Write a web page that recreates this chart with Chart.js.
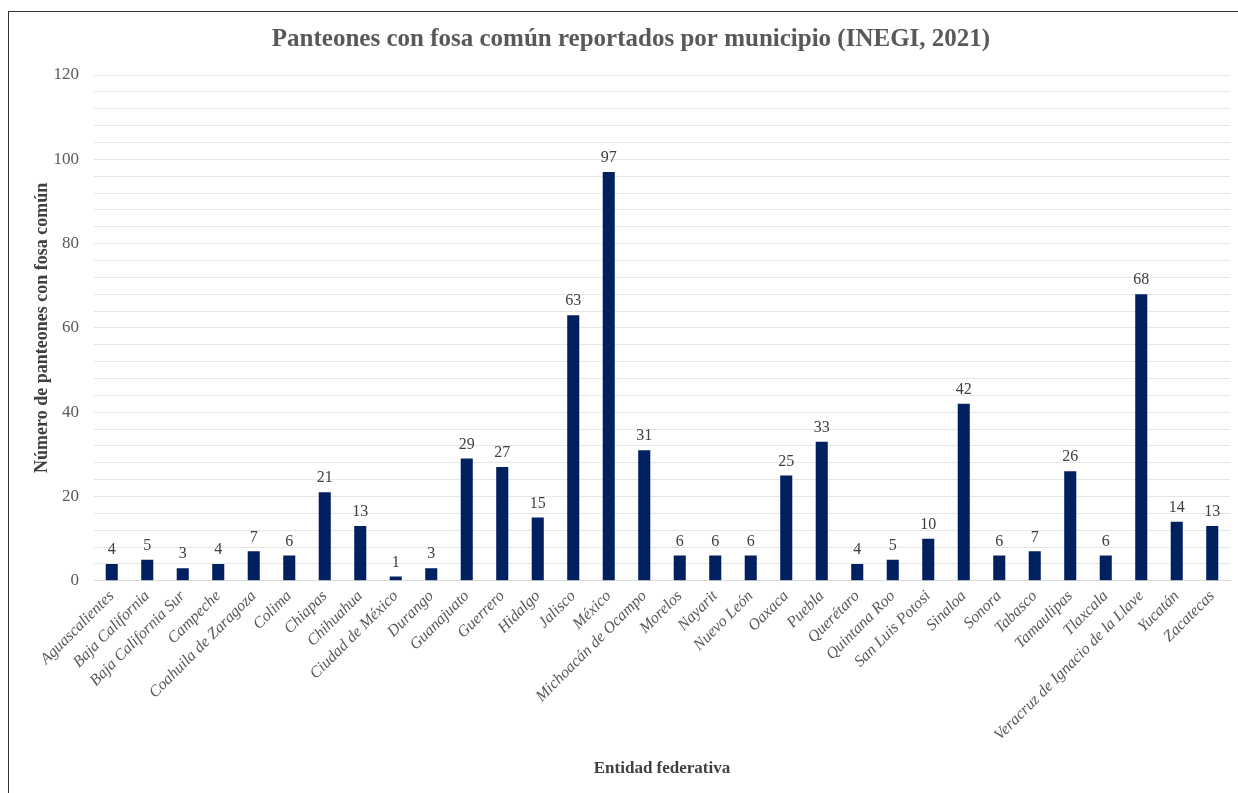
<!DOCTYPE html>
<html>
<head>
<meta charset="utf-8">
<script src="https://cdn.jsdelivr.net/npm/chart.js@4"></script>
<style>
    html, body { margin: 0; padding: 0; background: #fff; overflow: hidden; }
    #wrap { position: relative; width: 1238px; height: 793px; }
    #frame { position: absolute; left: 8px; top: 11px; width: 1260px; height: 820px; border: 1.5px solid #333; box-sizing: border-box; }
    canvas { position: absolute; left: 0; top: 0; }
</style>
</head>
<body>
<div id="wrap">
    <div id="frame"></div>
    <canvas id="myChart" width="1238" height="793"></canvas>
</div>
<script>
// Data
const states = [
    'Aguascalientes', 'Baja California', 'Baja California Sur', 'Campeche',
    'Coahuila de Zaragoza', 'Colima', 'Chiapas', 'Chihuahua', 'Ciudad de México',
    'Durango', 'Guanajuato', 'Guerrero', 'Hidalgo', 'Jalisco', 'México',
    'Michoacán de Ocampo', 'Morelos', 'Nayarit', 'Nuevo León', 'Oaxaca', 'Puebla',
    'Querétaro', 'Quintana Roo', 'San Luis Potosi', 'Sinaloa', 'Sonora', 'Tabasco',
    'Tamaulipas', 'Tlaxcala', 'Veracruz de Ignacio de la Llave', 'Yucatán', 'Zacatecas'
];
const panteones = [4, 5, 3, 4, 7, 6, 21, 13, 1, 3, 29, 27, 15, 63, 97, 31, 6, 6, 6, 25, 33, 4, 5, 10, 42, 6, 7, 26, 6, 68, 14, 13];
const yTicks = [0, 20, 40, 60, 80, 100, 120];

const serif = '"Liberation Serif", "Times New Roman", serif';

// Draws the value above each bar
const barValues = {
    id: 'barValues',
    afterDatasetsDraw(chart) {
        const ctx = chart.ctx;
        const meta = chart.getDatasetMeta(0);
        ctx.save();
        ctx.font = '16px ' + serif;
        ctx.fillStyle = '#404040';
        ctx.textAlign = 'center';
        ctx.textBaseline = 'bottom';
        meta.data.forEach((bar, i) => {
            ctx.fillText(panteones[i], bar.x, bar.y - 6);
        });
        ctx.restore();
    }
};

const ctx = document.getElementById('myChart');
new Chart(ctx, {
    type: 'bar',
    data: {
        labels: states,
        datasets: [{
            label: 'Panteones con fosa común',
            data: panteones,
            backgroundColor: '#002060',
            barPercentage: 0.34,
            categoryPercentage: 1
        }]
    },
    options: {
        responsive: false,
        animation: false,
        layout: { padding: { left: 32, right: 8, top: 8, bottom: 14 } },
        scales: {
            x: {
                grid: { display: false, drawTicks: false },
                border: { color: '#d9d9d9', width: 1 },
                // let the first rotated label hang left without shrinking the plot
                afterFit: scale => { scale.paddingLeft = 0; },
                ticks: {
                    autoSkip: false,
                    maxRotation: 45,
                    minRotation: 45,
                    padding: 6,
                    color: '#595959',
                    font: { family: serif, size: 16, style: 'italic' }
                },
                title: {
                    display: true,
                    text: 'Entidad federativa',
                    color: '#404040',
                    font: { family: serif, size: 17, weight: 'bold' },
                    padding: { top: 8, bottom: 0 }
                }
            },
            y: {
                min: 0,
                max: 120,
                afterFit: scale => { scale.width = 62; },
                grid: { color: '#e6e6e6', drawTicks: false },
                border: { display: false },
                ticks: {
                    stepSize: 4,
                    autoSkip: false,
                    padding: 15,
                    color: '#595959',
                    font: { family: serif, size: 17 },
                    callback: v => yTicks.includes(v) ? v : ''
                },
                title: {
                    display: true,
                    text: 'Número de panteones con fosa común',
                    color: '#404040',
                    font: { family: serif, size: 18, weight: 'bold' },
                    padding: { top: 0, bottom: 0 }
                }
            }
        },
        plugins: {
            legend: { display: false },
            tooltip: { enabled: false },
            title: {
                display: true,
                text: 'Panteones con fosa común reportados por municipio (INEGI, 2021)',
                color: '#595959',
                font: { family: serif, size: 25, weight: 'bold' },
                padding: { top: 17, bottom: 20 }
            }
        }
    },
    plugins: [barValues]
});
</script>
</body>
</html>
